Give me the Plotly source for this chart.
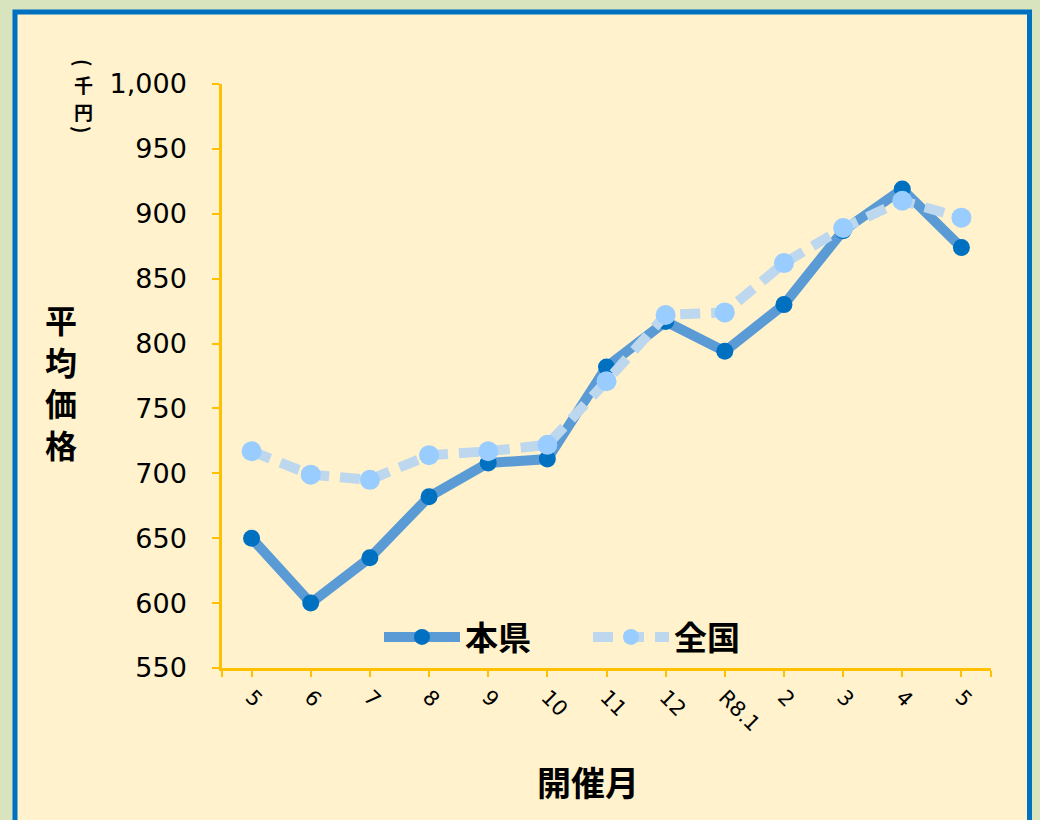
import plotly.graph_objects as go

# ---- data ----
months = ["5", "6", "7", "8", "9", "10", "11", "12", "R8.1", "2", "3", "4", "5"]
honken = [650, 600, 635, 682, 708, 711, 782, 817, 794, 830, 887, 919, 874]
zenkoku = [717, 699, 695, 714, 717, 722, 771, 822, 824, 862, 889, 910, 897]
series_names = ["本県", "全国"]
y_ticks = [550, 600, 650, 700, 750, 800, 850, 900, 950, 1000]

# ---- layout geometry (pixels) ----
W, H = 1040, 820
L, R, T, B = 222, 49, 84, 152
PW, PH = W - L - R, H - T - B


def px(x):
    return (x - L) / PW


def py(y):
    return (H - B - y) / PH


JP = "Noto Sans CJK JP"
NUM = "DejaVu Sans"
AXC = "#ffc000"
BG = "#d7e4bd"

xs = list(range(len(months)))

fig = go.Figure()
fig.add_trace(go.Scatter(
    x=xs, y=honken, name=series_names[0], mode="lines+markers",
    line=dict(color="#5b9bd5", width=10),
    marker=dict(color="#0070c0", size=17),
))
fig.add_trace(go.Scatter(
    x=xs, y=zenkoku, name=series_names[1], mode="lines+markers",
    line=dict(color="#bdd7ee", width=10, dash="20px,11px"),
    marker=dict(color="#99ccff", size=20),
))


def label(text, x, y, size, angle=0):
    return dict(text=text, xref="paper", yref="paper", x=px(x), y=py(y),
                xanchor="center", yanchor="middle", showarrow=False, textangle=angle,
                font=dict(family=JP, size=size, color="#000000", weight="bold"))


fig.update_layout(
    width=W, height=H,
    margin=dict(l=L, r=R, t=T, b=B, pad=0),
    paper_bgcolor=BG,
    plot_bgcolor="rgba(0,0,0,0)",
    showlegend=True,
    legend=dict(
        orientation="h", x=px(379), y=py(637), xanchor="left", yanchor="middle",
        bgcolor="rgba(0,0,0,0)", itemwidth=76, entrywidth=118, entrywidthmode="pixels",
        font=dict(family=JP, size=33, color="#000000", weight="bold"),
    ),
    xaxis=dict(
        range=[-0.5, len(months) - 0.5],
        tickmode="array", tickvals=xs, ticktext=months, tickangle=45,
        showgrid=False, zeroline=False,
        showline=True, linecolor=AXC, linewidth=2.5,
        ticks="outside", ticklen=6, tickcolor=AXC, tickwidth=2,
        tickfont=dict(family=NUM, size=21, color="#000000"),
        minor=dict(tickmode="linear", tick0=-0.5, dtick=len(months), ticks="outside",
                   ticklen=6, tickcolor=AXC, tickwidth=2, showgrid=False),
    ),
    yaxis=dict(
        range=[550, 1000],
        tickmode="array", tickvals=y_ticks, tickformat=",d",
        showgrid=False, zeroline=False,
        showline=True, linecolor=AXC, linewidth=2.5,
        ticks="outside", ticklen=7, tickcolor=AXC, tickwidth=2,
        ticklabelstandoff=20,
        tickfont=dict(family=NUM, size=27, color="#000000"),
    ),
    shapes=[
        dict(type="rect", xref="paper", yref="paper", layer="below",
             x0=px(15), x1=px(1029.5), y0=py(840), y1=py(12),
             fillcolor="#fff2cc", line=dict(color="#0070c0", width=5)),
    ],
    annotations=[
        label("平<br>均<br>価<br>格", 61, 382, 32),
        label("開催月", 588, 781, 34),
        label("(", 83, 63, 20, 90),
        label("千", 83, 85, 19),
        label("円", 83, 112, 19),
        label(")", 83, 130, 20, 90),
    ],
)

fig.write_html(
    "out.html",
    config={"displayModeBar": False},
    post_script=f"document.body.style.margin='0';document.body.style.background='{BG}';",
)
